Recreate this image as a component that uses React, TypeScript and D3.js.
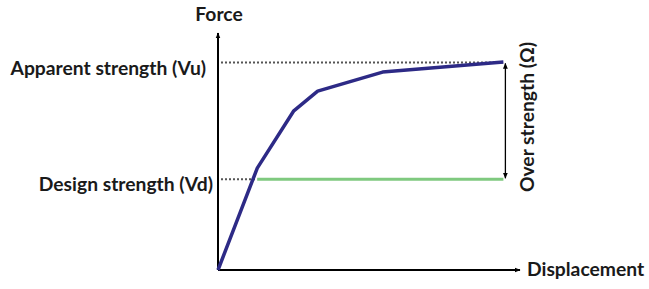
import React from "react";
import * as d3 from "d3";

const displacement = [0, 13, 25, 33, 54.5, 94.5];
const force = [0, 43, 67, 75.5, 83.5, 87.8];
const designStrength = 38.3;
const apparentStrength = 87.6;
const labels = {
  y: "Force",
  x: "Displacement",
  vu: "Apparent strength (Vu)",
  vd: "Design strength (Vd)",
  omega: "Over strength (Ω)",
};

export default function App() {
  const W = 649, H = 289;
  const x = d3.scaleLinear().domain([0, 100]).range([218, 520]);
  const y = d3.scaleLinear().domain([0, 100]).range([270, 33]);
  const pts = displacement.map((d, i) => [x(d), y(force[i])] as [number, number]);
  const line = d3.line();
  const xEnd = x(displacement[displacement.length - 1]);
  const arrowX = xEnd + 2;
  const font = "Lato, 'Open Sans', sans-serif";
  return (
    <svg width={W} height={H} style={{ position: "absolute", left: 0, top: 0, background: "#fff" }}>
      <defs>
        <marker id="ah" viewBox="0 0 10 10" refX="9" refY="5" markerWidth="6" markerHeight="6" orient="auto-start-reverse" markerUnits="userSpaceOnUse">
          <path d="M0,1 L10,5 L0,9 z" fill="#000" />
        </marker>
      </defs>
      {/* dotted guides */}
      <line x1={x(0) + 3} x2={xEnd} y1={y(apparentStrength)} y2={y(apparentStrength)} stroke="#555" strokeWidth={2} strokeDasharray="2,2" />
      <line x1={x(0) + 3} x2={x(13)} y1={y(designStrength)} y2={y(designStrength)} stroke="#555" strokeWidth={2} strokeDasharray="2,2" />
      {/* green design line */}
      <line x1={x(13)} x2={xEnd} y1={y(designStrength)} y2={y(designStrength)} stroke="#7fc97f" strokeWidth={3} />
      {/* axes */}
      <line x1={x(0)} x2={x(0)} y1={y(0)} y2={y(100)} stroke="#000" strokeWidth={2} markerEnd="url(#ah)" />
      <line x1={x(0)} x2={x(100)} y1={y(0)} y2={y(0)} stroke="#000" strokeWidth={2} markerEnd="url(#ah)" />
      {/* curve */}
      <path d={line(pts) || ""} fill="none" stroke="#2d2a86" strokeWidth={3.5} strokeLinejoin="round" />
      {/* double arrow */}
      <line x1={arrowX} x2={arrowX} y1={y(apparentStrength) + 1} y2={y(designStrength) - 1} stroke="#000" strokeWidth={1.3} markerStart="url(#ah)" markerEnd="url(#ah)" />
      {/* texts */}
      <g fontFamily={font} fontWeight={700} fill="#1a1a1a" fontSize={19.3}>
        <text x={219} y={21} textAnchor="middle">{labels.y}</text>
        <text x={527} y={276}>{labels.x}</text>
        <text x={206} y={75} textAnchor="end">{labels.vu}</text>
        <text x={213} y={191} textAnchor="end">{labels.vd}</text>
        <text transform={`translate(534,117) rotate(-90)`} textAnchor="middle">{labels.omega}</text>
      </g>
    </svg>
  );
}
